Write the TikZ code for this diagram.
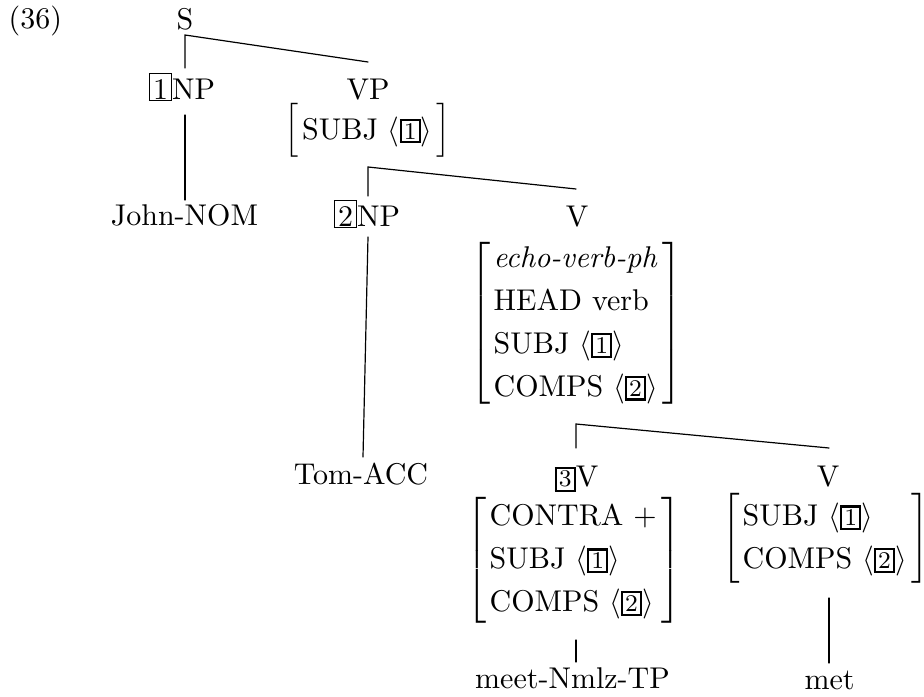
\documentclass[tikz,border=0pt]{standalone}
\usetikzlibrary{calc}
\newcommand\bigtag[1]{{\setlength{\fboxsep}{0pt}\setlength{\fboxrule}{0.4pt}\fbox{\hspace{0.95pt}\rule{0pt}{8.6pt}#1\hspace{0.95pt}}}}
\newcommand\smalltag[1]{{\setlength{\fboxsep}{0.7pt}\setlength{\fboxrule}{0.7pt}\fbox{\footnotesize #1}}}
\newcommand\avm[1]{$\renewcommand\arraystretch{1.19}\left[\begin{tabular}{@{\hspace{1pt}}l@{\hspace{1.5pt}}}#1\end{tabular}\right]$}
\newcommand\lst[1]{$\langle$\smalltag{#1}$\rangle$}
\begin{document}
\begin{tikzpicture}[x=0.3333pt,y=-0.3333pt,
  lbl/.style={inner sep=0pt,anchor=base},
  avmbox/.style={inner sep=0pt,anchor=center},
  branch/.style={line width=0.4pt,line cap=round}]
\useasboundingbox (0,0) rectangle (924,697);
% labels
\node[lbl,anchor=base west] (ex) at (8,29) {(36)};
\node[lbl] (s) at (185,30) {S};
\node[lbl] (np1) at (182,100) {\bigtag{1}NP};
\node[lbl] (vp) at (368,100) {VP};
\node[avmbox] (vpavm) at (368,130.5) {\avm{SUBJ \lst{1}}};
\node[lbl] (john) at (184.5,226) {John-NOM};
\node[lbl] (np2) at (367,227) {\bigtag{2}NP};
\node[lbl] (tom) at (361,485) {Tom-ACC};
\node[lbl] (v1) at (577,227) {V};
\node[avmbox] (v1avm) at (576.5,323.5) {\avm{\textit{echo-verb-ph}\\HEAD verb\\SUBJ \lst{1}\\COMPS \lst{2}}};
\node[lbl] (v3) at (576.5,487) {\smalltag{3}V};
\node[avmbox] (v3avm) at (574,560) {\avm{CONTRA $+$\\SUBJ \lst{1}\\COMPS \lst{2}}};
\node[lbl] (meet) at (572.5,689) {meet-Nmlz-TP};
\node[lbl] (v4) at (828,487) {V};
\node[avmbox] (v4avm) at (825.5,538.5) {\avm{SUBJ \lst{1}\\COMPS \lst{2}}};
\node[lbl] (met) at (829.5,690) {met};
% branch points and ends
\coordinate (sb) at (185,35);
\coordinate (np1t) at (185,68);
\coordinate (vpt) at (368,62);
\coordinate (np1b) at (185,115);
\coordinate (johnt) at (185,200);
\coordinate (vpb) at (368,167);
\coordinate (np2t) at (368,196);
\coordinate (v1t) at (576,189);
\coordinate (np2b) at (368,237);
\coordinate (tomt) at (363,457);
\coordinate (v1b) at (576,424);
\coordinate (v3t) at (576,448);
\coordinate (v4t) at (829,448);
\coordinate (v3b) at (576,640);
\coordinate (meett) at (576,662);
\coordinate (v4b) at (829,598);
\coordinate (mett) at (829,663);
% connectors
\draw[branch] (np1t) -- (sb) -- (vpt);
\draw[branch] (np1b) -- (johnt);
\draw[branch] (np2t) -- (vpb) -- (v1t);
\draw[branch] (np2b) -- (tomt);
\draw[branch] (v3t) -- (v1b) -- (v4t);
\draw[branch] (v3b) -- (meett);
\draw[branch] (v4b) -- (mett);
\end{tikzpicture}
\end{document}
